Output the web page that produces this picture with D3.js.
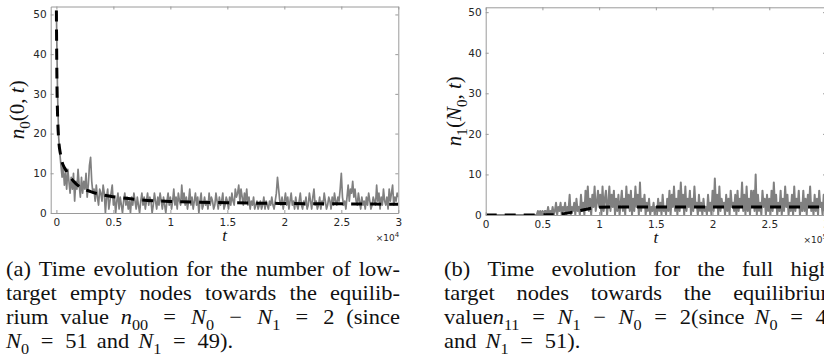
<!DOCTYPE html>
<html>
<head>
<meta charset="utf-8">
<script src="https://cdn.jsdelivr.net/npm/d3@7"></script>
<style>
  body { margin: 0; background: #fff; }
  svg { display: block; }
  .tick text { font-family: 'DejaVu Sans', sans-serif; font-size: 10.5px; fill: #262626; }
  .domain, .tick line { stroke: #9a9a9a; }
  .serif { font-family: 'Liberation Serif', 'Times New Roman', serif; fill: #111; }
</style>
</head>
<body>
<div id="chart"></div>
<script>
const xTicks = [0, 0.5, 1, 1.5, 2, 2.5, 3];
const xTickLabels = ['0', '0.5', '1', '1.5', '2', '2.5', '3'];
const yTicks = [0, 10, 20, 30, 40, 50];
const sampleStep = 0.01; // both runs sampled every 0.01 (x10^4 / x10^5)

// (a) low-target empty nodes, t in units of 1e4
const emptyNoise = [
  51, 30, 19, 15, 12, 9, 12, 7, 10, 6,
  11, 8, 5, 9, 6, 10, 3, 8, 6, 11,
  7, 4, 9, 5, 8, 6, 10, 4, 7, 12,
  14, 8, 5, 6, 3, 7, 4, 2, 6, 5,
  3, 7, 5, 0, 4, 6, 1, 3, 5, 7,
  2, 4, 0, 3, 5, 1, 4, 2, 0, 3,
  5, 2, 4, 1, 3, 0, 4, 2, 5, 3,
  1, 4, 2, 0, 3, 5, 2, 4, 1, 3,
  5, 2, 4, 3, 0, 2, 5, 3, 1, 4,
  2, 5, 3, 1, 4, 2, 0, 3, 5, 2,
  4, 1, 3, 6, 2, 4, 1, 5, 3, 2,
  7, 3, 5, 2, 4, 1, 3, 6, 2, 4,
  1, 3, 5, 2, 4, 0, 3, 5, 1, 2,
  4, 2, 3, 1, 5, 2, 4, 3, 1, 2,
  5, 3, 1, 4, 2, 3, 5, 1, 2, 4,
  3, 1, 4, 2, 5, 3, 2, 6, 4, 5,
  7, 3, 6, 4, 2, 5, 3, 6, 2, 4,
  1, 3, 2, 4, 1, 2, 3, 1, 2, 3,
  1, 2, 4, 1, 3, 2, 1, 3, 2, 4,
  2, 1, 3, 5, 9, 6, 3, 2, 4, 1,
  3, 5, 2, 4, 1, 3, 5, 2, 3, 1,
  4, 2, 1, 3, 5, 2, 1, 3, 2, 4,
  1, 2, 5, 3, 1, 4, 6, 2, 3, 1,
  2, 4, 1, 3, 2, 5, 3, 1, 2, 4,
  3, 1, 4, 2, 5, 3, 2, 4, 3, 6,
  10, 4, 2, 3, 1, 4, 7, 3, 6, 5,
  8, 4, 6, 3, 2, 5, 3, 1, 4, 2,
  3, 1, 4, 2, 5, 3, 1, 2, 4, 3,
  2, 7, 3, 5, 1, 4, 2, 6, 3, 2,
  4, 1, 6, 3, 5, 7, 2, 4, 3, 5, 4
];
const emptyMeanT = [0, 0.005, 0.01, 0.02, 0.035, 0.05, 0.075, 0.1, 0.15, 0.2, 0.3, 0.4, 0.5, 0.75, 1, 1.5, 2, 2.5, 3];
const emptyMean = [51, 32, 25, 18.5, 15, 12.8, 11.2, 10, 8, 6.7, 5.4, 4.6, 4.1, 3.3, 2.9, 2.6, 2.4, 2.3, 2.2];

// (b) full high-target nodes, t in units of 1e5
const fullNoise = [
  0, 0, 0, 0, 0, 0, 0, 0, 0, 0,
  0, 0, 0, 0, 0, 0, 0, 0, 0, 0,
  0, 0, 0, 0, 0, 0, 0, 0, 0, 0,
  0, 0, 0, 0, 0, 0, 0, 0, 0, 0,
  0, 0, 0, 0, 0, 0, 1, 0, 1, 0,
  1, 0, 1, 1, 0, 2, 0, 1, 0, 2,
  0, 1, 3, 0, 2, 1, 3, 0, 2, 1,
  3, 0, 2, 1, 5, 0, 2, 1, 3, 0,
  4, 1, 2, 0, 5, 1, 3, 0, 6, 2,
  7, 1, 4, 0, 5, 2, 7, 1, 3, 6,
  2, 5, 0, 7, 1, 4, 6, 0, 3, 7,
  1, 5, 2, 6, 0, 4, 1, 5, 0, 3,
  6, 1, 4, 0, 7, 2, 5, 1, 6, 0,
  4, 1, 7, 2, 5, 0, 8, 1, 4, 2,
  5, 0, 3, 1, 4, 0, 2, 1, 3, 0,
  2, 0, 4, 1, 3, 0, 5, 1, 2, 0,
  4, 1, 6, 0, 5, 2, 7, 1, 4, 0,
  6, 1, 8, 2, 5, 0, 7, 1, 4, 2,
  6, 0, 4, 1, 7, 2, 3, 0, 5, 1,
  3, 0, 4, 1, 2, 0, 5, 1, 3, 0,
  6, 1, 9, 2, 5, 0, 7, 1, 4, 2,
  3, 0, 5, 1, 4, 0, 6, 2, 3, 1,
  5, 0, 6, 1, 4, 2, 8, 1, 5, 0,
  7, 1, 4, 0, 6, 2, 6, 1, 10, 0,
  5, 1, 3, 0, 6, 2, 4, 0, 5, 1,
  4, 0, 6, 1, 8, 2, 5, 0, 3, 1,
  6, 0, 4, 1, 7, 2, 5, 0, 3, 1,
  5, 0, 7, 1, 4, 2, 6, 0, 3, 1,
  6, 1, 4, 0, 5, 2, 7, 1, 3, 0,
  5, 1, 4, 0, 6, 2, 3, 0, 5, 1, 4
];
const fullMeanT = [0, 0.6, 0.7, 0.8, 0.9, 1, 1.1, 1.5, 2, 2.5, 3];
const fullMean = [0, 0.05, 0.4, 0.9, 1.5, 1.9, 2, 2, 2, 2, 2];

const captionA = [
  '(a) Time evolution for the number of low-',
  'target empty nodes towards the equilib-',
  'rium value *n*_00 = *N*_0 − *N*_1 = 2 (since',
  '*N*_0 = 51 and *N*_1 = 49).'
];
const captionB = [
  '(b) Time evolution for the full high-',
  'target nodes towards the equilibrium',
  'value*n*_11 = *N*_1 − *N*_0 = 2(since *N*_0 = 49',
  'and *N*_1 = 51).'
];

const width = 824;
const height = 358;

const svg = d3.select('#chart')
  .append('svg')
  .attr('width', width)
  .attr('height', height);

// tiny markup: *x* italic, _00 subscript
function addRich(text, str, size) {
  const parts = str.match(/\*[^*]+\*|_\d+|[^*_]+/g);
  let shift = 0;
  parts.forEach(p => {
    const t = text.append('tspan');
    let dy;
    if (p.startsWith('_')) {
      dy = size * 0.28 - shift;
      shift = size * 0.28;
      t.text(p.slice(1)).attr('font-size', size * 0.72);
    } else {
      dy = -shift;
      shift = 0;
      if (p.startsWith('*')) t.text(p.slice(1, -1)).attr('font-style', 'italic');
      else t.text(p);
    }
    if (dy) t.attr('dy', dy);
  });
}

function drawPanel(cfg) {
  const g = svg.append('g');
  const x = d3.scaleLinear().domain(cfg.xDomain).range(cfg.xRange);
  const y = d3.scaleLinear().domain(cfg.yDomain).range(cfg.yRange);

  const clipId = 'clip-' + cfg.id;
  g.append('clipPath').attr('id', clipId)
    .append('rect')
    .attr('x', cfg.xRange[0]).attr('y', cfg.yRange[1])
    .attr('width', cfg.xRange[1] - cfg.xRange[0])
    .attr('height', cfg.yRange[0] - cfg.yRange[1]);

  const plot = g.append('g').attr('clip-path', `url(#${clipId})`);

  const noiseLine = d3.line()
    .x((d, i) => x(i * sampleStep))
    .y(d => y(d));
  plot.append('path')
    .datum(cfg.noise)
    .attr('fill', 'none')
    .attr('stroke', '#808080')
    .attr('stroke-width', cfg.noiseWidth)
    .attr('stroke-linejoin', 'round')
    .attr('d', noiseLine);

  const meanLine = d3.line()
    .x((d, i) => x(cfg.meanT[i]))
    .y(d => y(d))
    .curve(d3.curveMonotoneX);
  plot.append('path')
    .datum(cfg.mean)
    .attr('fill', 'none')
    .attr('stroke', '#000')
    .attr('stroke-width', 3)
    .attr('stroke-dasharray', '11,8')
    .attr('d', meanLine);

  const [x0, x1] = cfg.xRange;
  const [y0, y1] = cfg.yRange;

  g.append('g')
    .attr('transform', `translate(0,${y0})`)
    .call(d3.axisBottom(x).tickValues(xTicks).tickFormat((d, i) => xTickLabels[i])
      .tickSizeInner(-3).tickSizeOuter(0).tickPadding(6));
  g.append('g')
    .attr('transform', `translate(0,${y1})`)
    .call(d3.axisTop(x).tickValues(xTicks).tickFormat('')
      .tickSizeInner(-3).tickSizeOuter(0));
  g.append('g')
    .attr('transform', `translate(${x0},0)`)
    .call(d3.axisLeft(y).tickValues(yTicks)
      .tickSizeInner(-3).tickSizeOuter(0).tickPadding(4));
  g.append('g')
    .attr('transform', `translate(${x1},0)`)
    .call(d3.axisRight(y).tickValues(yTicks).tickFormat('')
      .tickSizeInner(-3).tickSizeOuter(0));

  g.append('text')
    .attr('class', 'serif')
    .attr('x', (x0 + x1) / 2)
    .attr('y', y0 + 28)
    .attr('text-anchor', 'middle')
    .attr('font-size', 17)
    .attr('font-style', 'italic')
    .text('t');

  const mult = g.append('text')
    .attr('x', x1 + 1)
    .attr('y', y0 + 28)
    .attr('text-anchor', 'end')
    .attr('font-family', 'DejaVu Sans, sans-serif')
    .attr('font-size', 9)
    .attr('fill', '#262626');
  mult.append('tspan').text('×10');
  mult.append('tspan').attr('dy', -4).attr('font-size', 7).text(cfg.exponent);

  const yl = g.append('text')
    .attr('class', 'serif')
    .attr('font-size', 21)
    .attr('text-anchor', 'middle')
    .attr('transform', `translate(${cfg.yLabelX},${(y0 + y1) / 2}) rotate(-90)`);
  addRich(yl, cfg.yLabel, 21);
}

// justified caption lines; glyphs widened a little to come near Computer Modern
function drawCaption(lines, left, lineWidth) {
  const size = 21;
  const stretch = 1.07;
  const g = svg.append('g').attr('class', 'serif').attr('font-size', size);
  lines.forEach((line, li) => {
    const baseline = 276 + li * 24;
    const words = line.split(' ').map(w => {
      const t = g.append('text');
      addRich(t, w, size);
      return { node: t, text: w, w: t.node().getComputedTextLength() * stretch };
    });
    const total = d3.sum(words, d => d.w);
    const last = li === lines.length - 1;
    const gapAfter = (d, i) => {
      const next = words[i + 1];
      const rel = ['=', '−'].includes(d.text) || (next && ['=', '−'].includes(next.text));
      return rel ? 9 : 7;
    };
    let scaleGap = 1.3;
    if (!last) {
      const natural = d3.sum(words.slice(0, -1), gapAfter);
      scaleGap = (lineWidth - total) / natural;
    }
    let cx = left;
    words.forEach((d, i) => {
      d.node.attr('transform', `translate(${cx},${baseline}) scale(${stretch},1)`);
      cx += d.w + gapAfter(d, i) * scaleGap;
    });
  });
}

drawPanel({
  id: 'a',
  xDomain: [-0.05, 3], xRange: [50.7, 398.3],
  yDomain: [0, 52], yRange: [213, 6.5],
  noise: emptyNoise, meanT: emptyMeanT, mean: emptyMean, noiseWidth: 1.7,
  exponent: '4', yLabelX: 24, yLabel: '*n*_0(0, *t*)'
});

drawPanel({
  id: 'b',
  xDomain: [0, 3], xRange: [485.7, 826],
  yDomain: [0, 51.2], yRange: [215, 7.3],
  noise: fullNoise, meanT: fullMeanT, mean: fullMean, noiseWidth: 2,
  exponent: '5', yLabelX: 461, yLabel: '*n*_1(*N*_0, *t*)'
});

drawCaption(captionA, 6, 394);
drawCaption(captionB, 444, 394);
</script>
</body>
</html>
